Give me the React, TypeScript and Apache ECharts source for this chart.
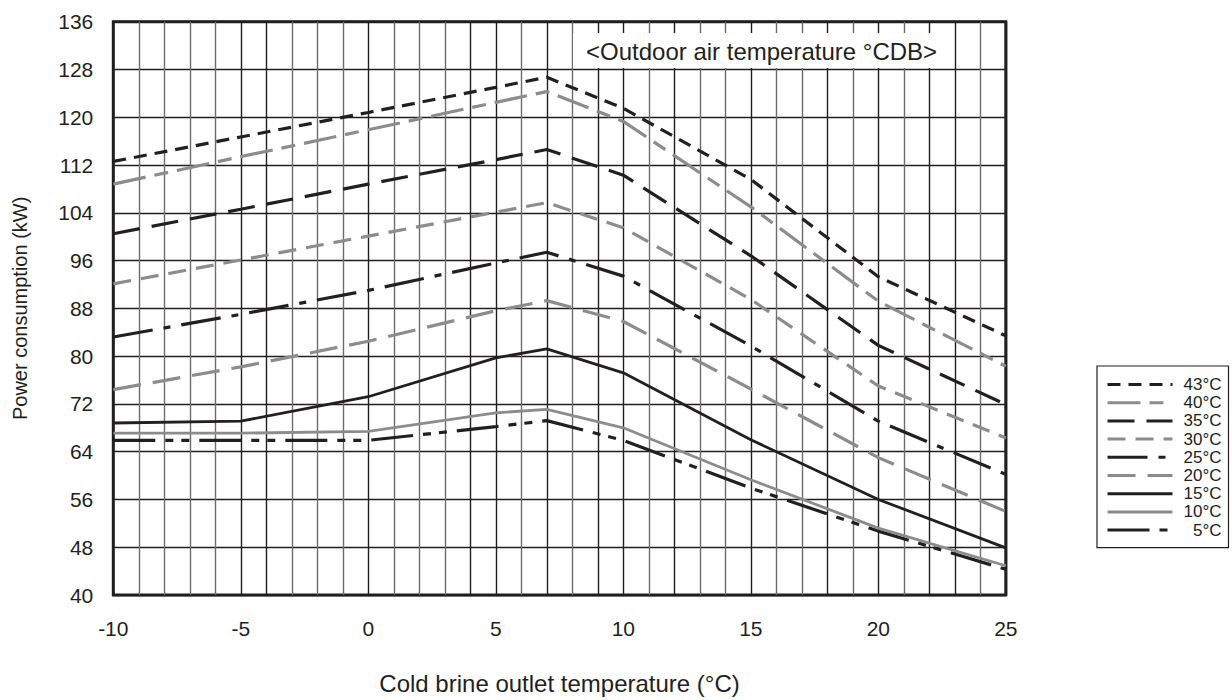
import React, { useEffect, useRef } from 'react';
import * as echarts from 'echarts';

// Cold brine outlet temperature (°C)
const xValues = [-10, -5, 0, 5, 7, 10, 15, 20, 25];

// Power consumption (kW) per outdoor air temperature
const t43 = [112.6, 116.7, 120.8, 125.0, 126.7, 121.5, 109.6, 93.3, 83.4];
const t40 = [108.8, 113.4, 117.9, 122.5, 124.3, 119.3, 105.0, 89.2, 78.3];
const t35 = [100.5, 104.6, 108.8, 112.9, 114.6, 110.3, 96.8, 81.8, 71.9];
const t30 = [92.1, 96.1, 100.1, 104.1, 105.7, 101.5, 89.5, 75.0, 66.3];
const t25 = [83.2, 87.0, 91.0, 95.6, 97.4, 93.4, 81.7, 69.1, 60.2];
const t20 = [74.4, 78.2, 82.5, 87.6, 89.3, 85.8, 74.5, 63.0, 54.0];
const t15 = [68.8, 69.1, 73.2, 79.7, 81.2, 77.2, 66.0, 56.0, 47.9];
const t10 = [67.1, 67.1, 67.4, 70.5, 71.1, 68.0, 59.3, 51.2, 44.9];
const t5 = [65.9, 65.9, 65.9, 68.2, 69.2, 65.9, 57.9, 50.7, 44.3];

const seriesNames = ['43°C', '40°C', '35°C', '30°C', '25°C', '20°C', '15°C', '10°C', '5°C'];
const seriesValues = [t43, t40, t35, t30, t25, t20, t15, t10, t5];

const xAxisTitle = 'Cold brine outlet temperature (°C)';
const yAxisTitle = 'Power consumption (kW)';
const noteText = '<Outdoor air temperature °CDB>';

const BLACK = '#231f20';
const GRAY = '#8c8c8c';
const seriesColors = [BLACK, GRAY, BLACK, GRAY, BLACK, GRAY, BLACK, GRAY, BLACK];
const seriesDash: (number[] | 'solid')[] = [
  [13, 8],
  [33, 9, 14, 9],
  [27, 12],
  [18, 10],
  [40, 11, 7, 11],
  [28, 12],
  'solid',
  'solid',
  [42, 10, 8, 8, 8, 10],
];

// vertical grid line shades for x = -10 .. 25
const vShade = 'kggggkkgggkgggkkgkgkkgkggkggkgkgkkgk'.split('').map((c) => (c === 'k' ? '#1f1f1f' : '#6c6c6c'));

const FONT = '"Liberation Sans", Arial, Helvetica, sans-serif';

export default function App() {
  const ref = useRef<HTMLDivElement>(null);

  useEffect(() => {
    if (!ref.current) return;
    const chart = echarts.init(ref.current, null, { renderer: 'svg' });

    const series = seriesNames.map((name, i) => ({
      name,
      type: 'line',
      data: xValues.map((x, j) => [x, seriesValues[i][j]]),
      symbol: 'none',
      showSymbol: false,
      smooth: false,
      z: 10 - i,
      lineStyle: {
        color: seriesColors[i],
        width: seriesDash[i] === 'solid' ? 2.8 : 3.2,
        type: seriesDash[i],
        cap: 'butt',
      },
      itemStyle: { color: seriesColors[i] },
      emphasis: { disabled: true },
    }));

    const option: any = {
      animation: false,
      backgroundColor: '#ffffff',
      textStyle: { fontFamily: FONT, color: BLACK },
      grid: {
        left: 113.3,
        top: 21.7,
        right: 226.2,
        bottom: 104.5,
        show: true,
        borderColor: BLACK,
        borderWidth: 3,
        backgroundColor: '#ffffff',
        containLabel: false,
      },
      xAxis: {
        type: 'value',
        min: -10,
        max: 25,
        interval: 1,
        name: xAxisTitle,
        nameLocation: 'middle',
        nameGap: 76,
        nameTextStyle: { fontSize: 24, color: BLACK, fontFamily: FONT },
        axisLine: { show: false },
        axisTick: { show: false },
        axisLabel: {
          margin: 23,
          fontSize: 21,
          color: BLACK,
          fontFamily: FONT,
          formatter: (v: number) => (v % 5 === 0 ? String(v) : ''),
        },
        splitLine: {
          show: true,
          showMinLine: true,
          showMaxLine: true,
          lineStyle: { color: vShade, width: 1.4 },
        },
      },
      yAxis: {
        type: 'value',
        min: 40,
        max: 136,
        interval: 8,
        name: yAxisTitle,
        nameLocation: 'middle',
        nameGap: 83,
        nameTextStyle: { fontSize: 20, color: BLACK, fontFamily: FONT },
        axisLine: { show: false },
        axisTick: { show: false },
        axisLabel: { margin: 20, fontSize: 21, color: BLACK, fontFamily: FONT },
        splitLine: { show: true, lineStyle: { color: BLACK, width: 1.4 } },
      },
      legend: {
        show: true,
        orient: 'vertical',
        left: 1097,
        top: 366,
        data: seriesNames,
        itemWidth: 65,
        itemHeight: 14,
        itemGap: 1.2,
        padding: [10, 7, 9, 9],
        borderColor: BLACK,
        borderWidth: 1.2,
        selectedMode: false,
        backgroundColor: '#ffffff',
        itemStyle: { opacity: 0 },
        lineStyle: { width: 3 },
        formatter: (name: string) => '{r|' + name + '}',
        textStyle: {
          fontSize: 17,
          color: BLACK,
          fontFamily: FONT,
          lineHeight: 14,
          rich: { r: { width: 44, align: 'right', fontSize: 17, fontFamily: FONT, color: BLACK, lineHeight: 14 } },
        },
      },
      graphic: [
        {
          type: 'rect',
          z: 100,
          shape: { x: 573, y: 33, width: 367, height: 35 },
          style: { fill: '#ffffff' },
        },
        {
          type: 'text',
          z: 101,
          x: 586,
          y: 51.5,
          style: {
            text: noteText,
            fontSize: 24,
            fontFamily: FONT,
            fill: BLACK,
            align: 'left',
            verticalAlign: 'middle',
          },
        },
      ],
      series,
    };

    chart.setOption(option);
    return () => chart.dispose();
  }, []);

  return (
    <div
      ref={ref}
      style={{ position: 'fixed', left: 0, top: 0, width: 1232, height: 700, background: '#ffffff' }}
    />
  );
}
